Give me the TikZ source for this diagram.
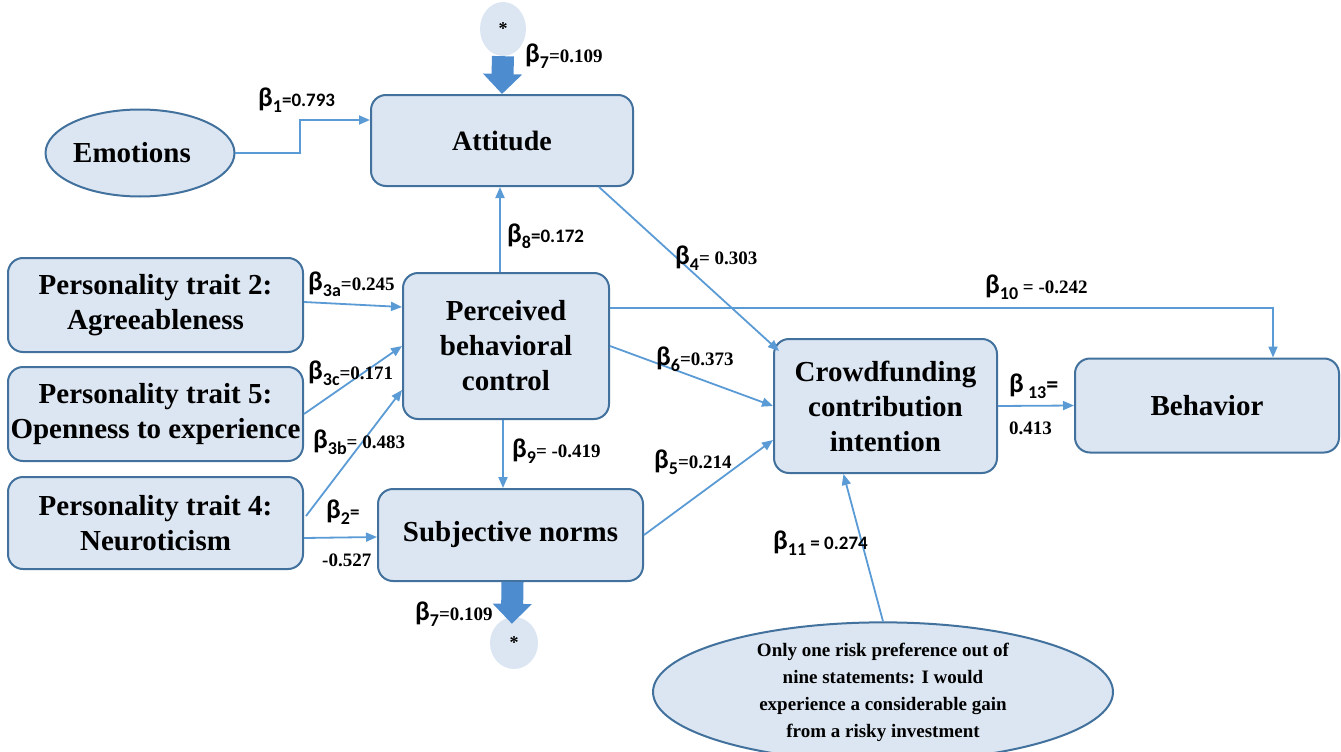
\documentclass[tikz,border=0pt]{standalone}
\usepackage{fontspec}
\setmainfont{Liberation Serif}
\newfontfamily\calfont{Carlito}
\usetikzlibrary{arrows.meta,shapes.geometric,calc}
\definecolor{boxfill}{HTML}{DCE6F2}
\definecolor{boxline}{HTML}{41719C}
\definecolor{conn}{HTML}{5B9BD5}
\definecolor{bigarrow}{HTML}{4E8CD0}
% coefficient labels: beta with subscript, then the value
\newcommand\bsym[1]{{\calfont\bfseries\fontsize{27}{27}\selectfont β}\raisebox{-6pt}{\calfont\bfseries\fontsize{18}{18}\selectfont #1}}
\newcommand\sv[1]{{\bfseries\fontsize{19}{19}\selectfont #1}}
\newcommand\cv[1]{{\calfont\bfseries\fontsize{19}{19}\selectfont #1}}
\begin{document}
\begin{tikzpicture}[x=1pt,y=-1pt,
  box/.style={draw=boxline, fill=boxfill, line width=2pt, rounded corners=15pt,
    align=center, inner sep=0pt, font=\bfseries\fontsize{29}{35}\selectfont},
  oval/.style={ellipse, draw=boxline, fill=boxfill, line width=2pt, inner sep=0pt, align=center},
  dot/.style={ellipse, fill=boxfill, inner sep=0pt, font=\bfseries\fontsize{18}{18}\selectfont},
  link/.style={draw=conn, line width=1.8pt, -{Triangle[length=11pt,width=9pt]}},
  fat/.style={draw=bigarrow, line width=22pt, -{Triangle[length=20pt,width=38pt]}},
  lab/.style={anchor=west, inner sep=0pt}
]
\useasboundingbox (0,0) rectangle (1341,752);

% constructs
\node[oval, minimum width=184pt, minimum height=87pt, font=\bfseries\fontsize{29}{35}\selectfont] (emo) at (140,153) {Emotions\hspace*{16pt}};
\node[box, minimum width=262pt, minimum height=91pt, font=\bfseries\fontsize{28}{34}\selectfont] (att) at (502,140.5) {Attitude};
\node[box, minimum width=295pt, minimum height=94pt] (t2) at (155.5,305) {Personality trait 2:\\Agreeableness};
\node[box, minimum width=295pt, minimum height=94pt] (t5) at (155.5,414) {Personality trait 5:\\Openness to experience};
\node[box, minimum width=295pt, minimum height=92pt] (t4) at (155.5,523) {Personality trait 4:\\Neuroticism};
\node[box, minimum width=206pt, minimum height=146pt] (pbc) at (506,346) {Perceived\\behavioral\\control};
\node[box, minimum width=265pt, minimum height=92pt] (sn) at (510.5,535) {Subjective norms};
\node[box, minimum width=223pt, minimum height=134pt] (cf) at (885.5,406) {Crowdfunding\\contribution\\intention};
\node[box, minimum width=264pt, minimum height=94pt] (beh) at (1207,405.5) {Behavior};
\node[oval, minimum width=460pt, minimum height=122pt, font=\bfseries\fontsize{19}{27}\selectfont] (risk) at (883,692)
  {Only one risk preference out of\\nine statements: I would\\experience a considerable gain\\from a risky investment};
\node[dot, minimum width=46pt, minimum height=54pt] (startop) at (503,29) {*};
\node[dot, minimum width=48pt, minimum height=52pt] (starbot) at (514,643) {*};

% block arrows
\draw[fat] (startop.south) -- (att.north);
\draw[fat, shorten >=-7pt] ([xshift=2pt]sn.south) -- ([xshift=-2pt]starbot.north);

% paths
\coordinate (e1) at (300,120);
\draw[link] (emo.east) -| (e1) -- (att.west |- e1);
\draw[link] ([xshift=-6pt]pbc.north) -- ([xshift=-6pt]pbc.north |- att.south);
\draw[link] ([xshift=-3pt]pbc.south) -- ([xshift=-3pt]pbc.south |- sn.north);
\draw[link] ($(t2.east)+(0,-3)$) -- ($(pbc.north west)+(0,35)$);
\draw[link] (t5.east) -- (pbc.west);
\draw[link] ($(t4.east)+(2,-7)$) -- ($(pbc.south west)+(0,-30)$);
\draw[link] ($(t4.east)+(0,15)$) -- ($(sn.west)+(0,2)$);
\draw[link] ($(att.south east)+(-35,0)$) -- ($(cf.north west)+(6,13)$);
\draw[link] ($(pbc.north east)+(0,36)$) -| ($(beh.north)+(66,0)$);
\draw[link] (pbc.east) -- (cf.west);
\draw[link] (sn.east) -- ($(cf.west)+(0,34)$);
\draw[link] (cf.east) -- (beh.west);
\draw[link] (risk.north) -- ($(cf.south)+(-42,0)$);

% coefficients
\node[lab] (b1) at (258,100) {\bsym{1}\cv{=0.793}};
\node[lab] (b7a) at (525,56) {\bsym{7}\sv{=0.109}};
\node[lab] (b8) at (507,236) {\bsym{8}\cv{=0.172}};
\node[lab] (b4) at (675,258) {\bsym{4}\sv{= 0.303}};
\node[lab] (b10) at (985,287) {\bsym{10}\sv{ = -0.242}};
\node[lab] (b3a) at (308,284) {\bsym{3a}\sv{=0.245}};
\node[lab] (b3c) at (308,373) {\bsym{3c}\sv{=0.171}};
\node[lab] (b3b) at (313,442) {\bsym{3b}\sv{= 0.483}};
\node[lab] (b6) at (656,359) {\bsym{6}\sv{=0.373}};
\node[lab] (b13) at (1009,386) {\bsym{\ 13}\cv{\fontsize{24}{24}\selectfont =}};
\node[lab] (v13) at (1009,428) {\sv{0.413}};
\node[lab] (b9) at (512,451) {\bsym{9}\sv{= -0.419}};
\node[lab] (b5) at (654,462) {\bsym{5}\sv{=0.214}};
\node[lab] (b2) at (326,512) {\bsym{2}\cv{=}};
\node[lab] (v2) at (322,560) {\sv{-0.527}};
\node[lab] (b11) at (773,543) {\bsym{11}\cv{ = 0.274}};
\node[lab] (b7b) at (415,614) {\bsym{7}\sv{=0.109}};
\end{tikzpicture}
\end{document}
